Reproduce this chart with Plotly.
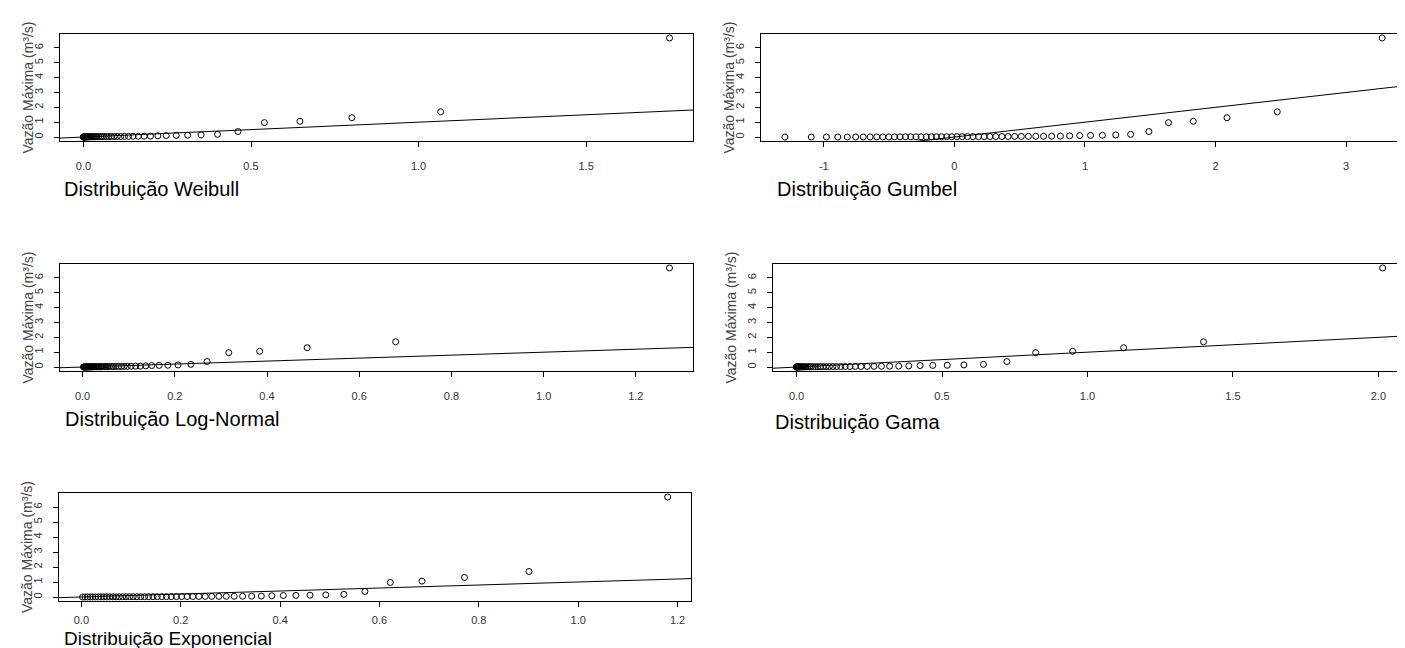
import plotly.graph_objects as go

W, H = 1405, 648

# ---- data ----
vazao_maxima = [0.000, 0.001, 0.002, 0.003, 0.004, 0.005, 0.006, 0.007, 0.008, 0.009,
                0.010, 0.011, 0.012, 0.013, 0.014, 0.015, 0.016, 0.017, 0.018, 0.019,
                0.020, 0.021, 0.022, 0.024, 0.025, 0.026, 0.028, 0.029, 0.030, 0.032,
                0.034, 0.036, 0.038, 0.040, 0.042, 0.045, 0.048, 0.052, 0.056, 0.062,
                0.08, 0.10, 0.11, 0.12, 0.14, 0.18, 0.37, 0.97, 1.06, 1.30, 1.70, 6.67]

q_weibull = [0, 0.0002, 0.0004, 0.0008, 0.0013, 0.0019, 0.0026, 0.0034, 0.0044, 0.0055,
             0.0068, 0.0082, 0.0098, 0.0115, 0.0134, 0.0155, 0.0178, 0.0204, 0.0231, 0.0261,
             0.0294, 0.033, 0.0369, 0.0411, 0.0457, 0.0507, 0.0561, 0.062, 0.0685, 0.0755,
             0.0832, 0.0916, 0.1008, 0.111, 0.1222, 0.1345, 0.148, 0.164, 0.181, 0.200,
             0.222, 0.247, 0.277, 0.311, 0.351, 0.400, 0.461, 0.540, 0.646, 0.801, 1.066, 1.749]

q_gumbel = [-1.298, -1.096, -0.980, -0.893, -0.820, -0.756, -0.698, -0.645, -0.595, -0.548,
            -0.502, -0.459, -0.416, -0.375, -0.334, -0.294, -0.255, -0.215, -0.176, -0.137,
            -0.098, -0.059, -0.020, 0.020, 0.060, 0.101, 0.143, 0.185, 0.228, 0.272,
            0.317, 0.364, 0.412, 0.462, 0.513, 0.567, 0.624, 0.683, 0.745, 0.812,
            0.883, 0.960, 1.043, 1.134, 1.236, 1.350, 1.490, 1.640, 1.830, 2.088, 2.473, 3.276]

q_lognormal = [0.002, 0.003, 0.004, 0.005, 0.007, 0.008, 0.009, 0.010, 0.011, 0.013,
               0.014, 0.015, 0.017, 0.018, 0.020, 0.022, 0.023, 0.025, 0.027, 0.029,
               0.031, 0.034, 0.036, 0.039, 0.041, 0.044, 0.048, 0.051, 0.054, 0.058,
               0.063, 0.067, 0.072, 0.078, 0.084, 0.090, 0.097, 0.105, 0.115, 0.125,
               0.137, 0.150, 0.166, 0.185, 0.207, 0.235, 0.270, 0.317, 0.384, 0.487, 0.679, 1.273]

q_gama = [0, 0, 0.0002, 0.0006, 0.0011, 0.0018, 0.0027, 0.0039, 0.0054, 0.0071,
          0.0091, 0.0115, 0.0142, 0.0172, 0.0207, 0.0245, 0.0288, 0.0335, 0.0387, 0.0445,
          0.0507, 0.0575, 0.065, 0.073, 0.0818, 0.0913, 0.1016, 0.1127, 0.1248, 0.1378,
          0.1519, 0.1672, 0.1838, 0.2019, 0.2215, 0.2429, 0.2662, 0.2918, 0.32, 0.3512,
          0.3858, 0.4246, 0.4682, 0.518, 0.5753, 0.6425, 0.7229, 0.8218, 0.9491, 1.1243, 1.3989, 2.0147]

q_exponencial = [0.0025, 0.0075, 0.0125, 0.0177, 0.0229, 0.0284, 0.0339, 0.0395, 0.0454, 0.0512,
                 0.0573, 0.0635, 0.0699, 0.0763, 0.0831, 0.0900, 0.0970, 0.1043, 0.1117, 0.1195,
                 0.1273, 0.1355, 0.1440, 0.1528, 0.1619, 0.1713, 0.1810, 0.1912, 0.2018, 0.2129,
                 0.2244, 0.2366, 0.2493, 0.2626, 0.2767, 0.2917, 0.3076, 0.3245, 0.3427, 0.3622,
                 0.3834, 0.4065, 0.4319, 0.4602, 0.4920, 0.5283, 0.5707, 0.6218, 0.6856, 0.7711, 0.9009, 1.1800]

titulos = ["Distribuição Weibull", "Distribuição Gumbel", "Distribuição Log-Normal",
           "Distribuição Gama", "Distribuição Exponencial"]
x_ticks = [[0, 0.5, 1.0, 1.5], [-1, 0, 1, 2, 3], [0, 0.2, 0.4, 0.6, 0.8, 1.0, 1.2],
           [0, 0.5, 1.0, 1.5, 2.0], [0, 0.2, 0.4, 0.6, 0.8, 1.0, 1.2]]
x_ticktext = [["0.0", "0.5", "1.0", "1.5"], ["-1", "0", "1", "2", "3"],
              ["0.0", "0.2", "0.4", "0.6", "0.8", "1.0", "1.2"],
              ["0.0", "0.5", "1.0", "1.5", "2.0"],
              ["0.0", "0.2", "0.4", "0.6", "0.8", "1.0", "1.2"]]
y_ticks = [0, 1, 2, 3, 4, 5, 6]
y_label = "Vazão Máxima (m³/s)"

series = [q_weibull, q_gumbel, q_lognormal, q_gama, q_exponencial]

# ---- layout (pixels) ----
boxes = [(52, 685, 26, 133), (753, 1398, 26, 133), (52, 685, 256, 363),
         (765, 1398, 256, 363), (51, 683, 485, 593)]
x_ranges = [(-0.070, 1.819), (-1.481, 3.459), (-0.049, 1.324), (-0.081, 2.095), (-0.045, 1.227)]
y_range = (-0.267, 6.937)
title_pos = [(55, 181), (768, 181), (56, 411), (766, 414), (55, 630)]
title_size = [20, 20, 20, 20, 19]
ytitle_x = [19, 720, 19, 722, 19]
x_standoff = [10, 10, 10, 10, 4]

FONT = "Liberation Sans, Arial, sans-serif"
fig = go.Figure()
annotations = []
for i, xs in enumerate(series):
    k = i + 1
    xa = "x" if k == 1 else f"x{k}"
    ya = "y" if k == 1 else f"y{k}"
    l, r, t, b = boxes[i]
    fig.add_trace(go.Scatter(
        x=xs, y=vazao_maxima, mode="markers", xaxis=xa, yaxis=ya, showlegend=False,
        marker=dict(symbol="circle-open", size=6, color="black", line=dict(width=1)),
        hoverinfo="x+y"))
    x0, x1 = x_ranges[i]
    fig.add_trace(go.Scatter(
        x=[x0, x1], y=[x0, x1], mode="lines", xaxis=xa, yaxis=ya, showlegend=False,
        line=dict(color="black", width=1), hoverinfo="skip"))
    axis_common = dict(showline=True, mirror=True, linecolor="black", linewidth=1,
                       ticks="outside", ticklen=5, tickwidth=1, tickcolor="black",
                       showgrid=False, zeroline=False,
                       tickfont=dict(family=FONT, size=11, color="#333"))
    fig.layout["xaxis" if k == 1 else f"xaxis{k}"] = dict(
        domain=[l / W, r / W], range=list(x_ranges[i]), anchor=ya,
        tickvals=x_ticks[i], ticktext=x_ticktext[i], ticklabelstandoff=x_standoff[i],
        **axis_common)
    fig.layout["yaxis" if k == 1 else f"yaxis{k}"] = dict(
        domain=[1 - b / H, 1 - t / H], range=list(y_range), anchor=xa,
        tickvals=y_ticks, ticktext=[str(v) for v in y_ticks], tickangle=-90,
        ticklabelstandoff=7, **axis_common)
    tx, ty = title_pos[i]
    annotations.append(dict(text=titulos[i], x=tx / W, y=1 - ty / H, xref="paper", yref="paper",
                            xanchor="left", yanchor="middle", showarrow=False, borderpad=0,
                            font=dict(family=FONT, size=title_size[i], color="black")))
    annotations.append(dict(text=y_label, x=ytitle_x[i] / W, y=1 - ((t + b) / 2) / H,
                            xref="paper", yref="paper", xanchor="center", yanchor="middle",
                            textangle=-90, showarrow=False,
                            font=dict(family=FONT, size=14, color="#444")))

fig.update_layout(width=W, height=H, margin=dict(l=0, r=0, t=0, b=0),
                  paper_bgcolor="white", plot_bgcolor="white", annotations=annotations,
                  font=dict(family=FONT))
fig.write_html("out.html")
